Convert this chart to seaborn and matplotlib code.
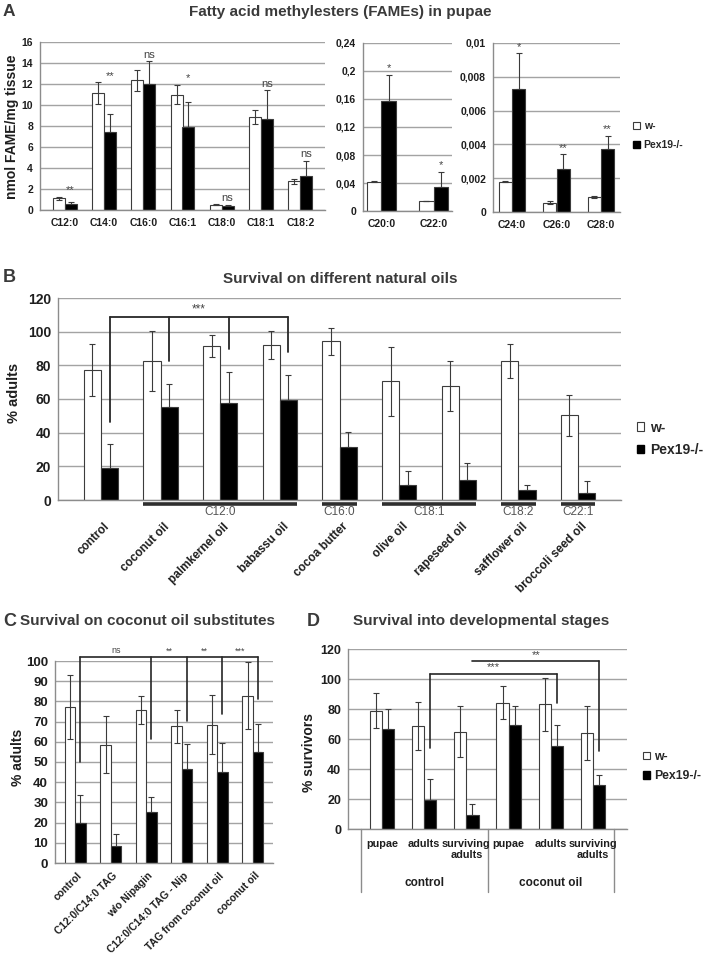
import numpy as np
import pandas as pd
import matplotlib
matplotlib.use('Agg')
import matplotlib.pyplot as plt
import matplotlib.transforms as mtransforms
from matplotlib.patches import Patch
import seaborn as sns

sns.set_theme(style='white')
plt.rcParams['font.family'] = ['Liberation Sans', 'DejaVu Sans']

# ---------------- data ----------------
genotypes = ['w-', 'Pex19-/-']

# Panel A – FAMEs (nmol FAME / mg tissue)
fame_lc = ['C12:0', 'C14:0', 'C16:0', 'C16:1', 'C18:0', 'C18:1', 'C18:2']
fame_lc_w = [1.1, 11.1, 12.35, 11.0, 0.5, 8.85, 2.75]
fame_lc_w_err = [0.15, 1.05, 1.0, 0.95, 0.05, 0.7, 0.25]
fame_lc_p = [0.6, 7.45, 12.0, 7.95, 0.35, 8.65, 3.25]
fame_lc_p_err = [0.2, 1.65, 2.2, 2.3, 0.1, 2.75, 1.45]
fame_lc_sig = ['**', '**', 'ns', '*', 'ns', 'ns', 'ns']

fame_mc = ['C20:0', 'C22:0']
fame_mc_w = [0.042, 0.0143]
fame_mc_w_err = [0.0008, 0.0006]
fame_mc_p = [0.157, 0.034]
fame_mc_p_err = [0.038, 0.022]
fame_mc_sig = ['*', '*']

fame_vlc = ['C24:0', 'C26:0', 'C28:0']
fame_vlc_w = [0.0018, 0.00055, 0.00088]
fame_vlc_w_err = [0.00004, 0.0001, 0.00005]
fame_vlc_p = [0.00728, 0.00256, 0.00371]
fame_vlc_p_err = [0.0021, 0.00085, 0.0008]
fame_vlc_sig = ['*', '**', '**']

# Panel B – survival on natural oils (% adults)
oils = ['control', 'coconut oil', 'palmkernel oil', 'babassu oil', 'cocoa butter',
        'olive oil', 'rapeseed oil', 'safflower oil', 'broccoli seed oil']
oils_w = [77.4, 82.7, 91.5, 92.0, 94.2, 70.4, 67.7, 82.7, 50.2]
oils_w_err = [15.5, 17.9, 6.5, 8.3, 8.0, 20.5, 14.7, 10.0, 12.0]
oils_p = [19.2, 55.2, 57.5, 59.5, 31.3, 8.7, 11.9, 6.2, 4.2]
oils_p_err = [14.0, 14.0, 18.5, 15.0, 8.8, 8.7, 10.0, 2.5, 7.0]
oil_groups = ['C12:0', 'C16:0', 'C18:1', 'C18:2', 'C22:1']
oil_group_first = ['coconut oil', 'cocoa butter', 'olive oil', 'safflower oil', 'broccoli seed oil']
oil_group_last = ['babassu oil', 'cocoa butter', 'rapeseed oil', 'safflower oil', 'broccoli seed oil']
oil_bracket_members = ['control', 'coconut oil', 'palmkernel oil', 'babassu oil']
oil_bracket_ends = [46.4, 82.7, 89.9, 87.7]
oil_bracket_level = 108.7
oil_bracket_sig = '***'

# Panel C – coconut oil substitutes (% adults)
subs = ['control', 'C12:0/C14:0 TAG', 'w/o Nipagin', 'C12:0/C14:0 TAG - Nip',
        'TAG from coconut oil', 'coconut oil']
subs_w = [77.2, 58.6, 75.9, 67.7, 68.5, 82.8]
subs_w_err = [15.8, 14.0, 7.0, 8.2, 14.7, 16.7]
subs_p = [19.8, 8.6, 25.1, 46.7, 45.0, 55.0]
subs_p_err = [14.0, 6.0, 7.4, 12.0, 14.5, 14.0]
subs_bracket_members = ['control', 'w/o Nipagin', 'C12:0/C14:0 TAG - Nip',
                        'TAG from coconut oil', 'coconut oil']
subs_bracket_ends = [49.8, 61.2, 70.5, 73.6, 81.0]
subs_bracket_level = 102.0
subs_sig = ['ns', '**', '**', '***']

# Panel D – survival into developmental stages (% survivors)
diets = ['control', 'coconut oil']
stages = ['pupae', 'adults', 'surviving\nadults']
stage_w = [78.9, 68.7, 64.9, 84.2, 83.1, 64.0]
stage_w_err = [11.5, 15.8, 17.0, 11.0, 17.6, 18.0]
stage_p = [66.7, 19.6, 9.1, 69.3, 55.1, 29.1]
stage_p_err = [13.0, 14.0, 7.3, 13.0, 14.0, 7.0]
stage_brackets = [  # (left stage idx, right stage idx, level, left end, right end, label)
    (1, 4, 103.6, 54.0, 84.0, '***'),
    (2, 5, 111.8, None, 52.0, '**'),
]

# ---------------- style ----------------
TXT = '#1e1e1e'
TITLE = '#3a3a3a'
GRID = '#a3a3a3'
SPINE = '#8c8c8c'
SIG = '#444444'
W, H = 705, 959
fig = plt.figure(figsize=(W / 100, H / 100), dpi=100)


def axpx(l, t, r, b):
    return fig.add_axes([l / W, 1 - b / H, (r - l) / W, (b - t) / H])


def draw_bars(ax, keys, w, p, werr, perr, width):
    n = len(keys)
    df = pd.DataFrame({'cat': list(keys) * 2,
                       'genotype': [genotypes[0]] * n + [genotypes[1]] * n,
                       'value': list(w) + list(p)})
    sns.barplot(data=df, x='cat', y='value', hue='genotype', order=list(keys),
                hue_order=genotypes, palette=dict(zip(genotypes, ['white', 'black'])),
                width=width, errorbar=None, legend=False, ax=ax, saturation=1,
                edgecolor='#3c3c3c', linewidth=0.8)
    out = []
    for k, (cont, err) in enumerate(zip(ax.containers, [werr, perr])):
        xs = np.array([r.get_x() + r.get_width() / 2 for r in cont])
        ys = np.array([r.get_height() for r in cont])
        err = np.asarray(err, dtype=float)
        yerr = err if k == 0 else np.vstack([np.zeros_like(err), err])
        ax.errorbar(xs, ys, yerr=yerr, fmt='none', ecolor='#3a3a3a', elinewidth=0.8,
                    capsize=2.3, capthick=0.8, zorder=4)
        out.append(xs)
    return out


def style_axes(ax, ticks, labels, fs):
    ax.set_ylim(ticks[0], ticks[-1])
    ax.set_yticks(ticks)
    ax.set_yticklabels(labels, fontweight='bold', fontsize=fs, color=TXT)
    ax.yaxis.grid(True, color=GRID, lw=1.0)
    ax.xaxis.grid(False)
    ax.set_axisbelow(True)
    for s in ['top', 'right']:
        ax.spines[s].set_visible(False)
    for s in ['left', 'bottom']:
        ax.spines[s].set_color(SPINE)
        ax.spines[s].set_linewidth(1.0)
    ax.tick_params(axis='y', length=3, width=0.9, color=SPINE, pad=2)
    ax.tick_params(axis='x', length=0)
    ax.set_xlabel('')
    ax.set_ylabel('')
    ax.set_facecolor('white')


def comma(v):
    return f'{v:g}'.replace('.', ',')


# ---------------- Panel A ----------------
fig.text(3 / W, 1 - 12 / H, 'A', fontsize=12.5, fontweight='bold', color=TITLE, va='center')
fig.text(340 / W, 1 - 12 / H, 'Fatty acid methylesters (FAMEs) in pupae', fontsize=11,
         fontweight='bold', color=TITLE, ha='center', va='center')

a_panels = [
    ((40, 42, 325, 210), fame_lc, fame_lc_w, fame_lc_p, fame_lc_w_err, fame_lc_p_err, fame_lc_sig,
     np.arange(0, 16.1, 2), 0.6),
    ((363, 43, 452, 211), fame_mc, fame_mc_w, fame_mc_p, fame_mc_w_err, fame_mc_p_err, fame_mc_sig,
     np.arange(0, 0.241, 0.04), 0.55),
    ((493, 43, 620, 212), fame_vlc, fame_vlc_w, fame_vlc_p, fame_vlc_w_err, fame_vlc_p_err, fame_vlc_sig,
     np.arange(0, 0.01001, 0.002), 0.6),
]
for box, cats, w, p, we, pe, sig, ticks, width in a_panels:
    ax = axpx(*box)
    xs = draw_bars(ax, cats, w, p, we, pe, width)
    style_axes(ax, ticks, [comma(t) for t in ticks], 7.5)
    ax.set_xticks(range(len(cats)))
    ax.set_xticklabels(cats, fontweight='bold', fontsize=7.5, color=TXT)
    ax.tick_params(axis='x', pad=6)
    for i, s in enumerate(sig):
        top = max(w[i] + we[i], p[i] + pe[i])
        ax.annotate(s, (xs[1][i], top), xytext=(0, 1), textcoords='offset points',
                    ha='center', va='bottom', fontsize=8, color=SIG)

fig.legend(handles=[Patch(fc='white', ec='#3c3c3c', lw=0.8), Patch(fc='black', ec='black')],
           labels=genotypes, loc='upper left', bbox_to_anchor=(629 / W, 1 - 117 / H),
           frameon=False, handlelength=0.7, handleheight=0.7, handletextpad=0.3,
           labelspacing=0.85, prop={'weight': 'bold', 'size': 7.5}, borderpad=0.4,
           borderaxespad=0)
fig.text(12 / W, 1 - 127 / H, 'nmol FAME/mg tissue', rotation=90, fontsize=10,
         fontweight='bold', color=TXT, ha='center', va='center')

# ---------------- Panel B ----------------
fig.text(3 / W, 1 - 277 / H, 'B', fontsize=13, fontweight='bold', color=TITLE, va='center')
fig.text(340 / W, 1 - 279 / H, 'Survival on different natural oils', fontsize=11,
         fontweight='bold', color=TITLE, ha='center', va='center')
axB = axpx(58, 298, 621, 500)
xsB = draw_bars(axB, oils, oils_w, oils_p, oils_w_err, oils_p_err, 0.58)
ticksB = np.arange(0, 121, 20)
style_axes(axB, ticksB, [f'{t:g}' for t in ticksB], 10)
axB.set_xticks(range(len(oils)))
axB.set_xticklabels(oils, rotation=45, ha='right', va='center', rotation_mode='anchor',
                    fontweight='bold', fontsize=8.5, color=TXT)
axB.tick_params(axis='x', pad=18)
offB = mtransforms.ScaledTranslation(7 / 100, 0, fig.dpi_scale_trans)
for lab in axB.get_xticklabels():
    lab.set_transform(lab.get_transform() + offB)
# substrate group lines
trB = mtransforms.blended_transform_factory(axB.transData, axB.transAxes)
half = 0.58 / 2
for g, a, b in zip(oil_groups, oil_group_first, oil_group_last):
    i0, i1 = oils.index(a), oils.index(b)
    axB.plot([i0 - half, i1 + half], [-0.02, -0.02], transform=trB, color='#2e2e2e',
             lw=2.6, clip_on=False, solid_capstyle='butt')
    axB.text((i0 + i1) / 2, -0.06, g, transform=trB, ha='center', va='center',
             fontsize=8.5, color='#555555')
# significance bracket
bx = [xsB[1][oils.index(m)] for m in oil_bracket_members]
axB.plot([bx[0], bx[-1]], [oil_bracket_level] * 2, color='#262626', lw=1.3, zorder=5)
for x_, e_ in zip(bx, oil_bracket_ends):
    axB.plot([x_, x_], [oil_bracket_level, e_], color='#262626', lw=1.3, zorder=5)
axB.text((bx[0] + bx[-1]) / 2, oil_bracket_level + 1, oil_bracket_sig, ha='center',
         va='bottom', fontsize=8.5, color=SIG)
fig.legend(handles=[Patch(fc='white', ec='#3c3c3c', lw=0.8), Patch(fc='black', ec='black')],
           labels=genotypes, loc='upper left', bbox_to_anchor=(631 / W, 1 - 415 / H),
           frameon=False, handlelength=0.55, handleheight=0.55, handletextpad=0.45,
           labelspacing=0.6, prop={'weight': 'bold', 'size': 10}, borderpad=0.4,
           borderaxespad=0)
fig.text(14 / W, 1 - 393 / H, '% adults', rotation=90, fontsize=10.5,
         fontweight='bold', color=TXT, ha='center', va='center')

# ---------------- Panel C ----------------
fig.text(3 / W, 1 - 621 / H, 'C', fontsize=13, fontweight='bold', color=TITLE, va='center')
fig.text(20 / W, 1 - 621 / H, 'Survival on coconut oil substitutes', fontsize=11,
         fontweight='bold', color=TITLE, ha='left', va='center')
axC = axpx(55, 661, 273, 863)
xsC = draw_bars(axC, subs, subs_w, subs_p, subs_w_err, subs_p_err, 0.58)
ticksC = np.arange(0, 101, 10)
style_axes(axC, ticksC, [f'{t:g}' for t in ticksC], 9.5)
axC.set_xticks(range(len(subs)))
axC.set_xticklabels(subs, rotation=45, ha='right', va='center', rotation_mode='anchor',
                    fontweight='bold', fontsize=7.5, color=TXT)
axC.tick_params(axis='x', pad=8)
offC = mtransforms.ScaledTranslation(5 / 100, 0, fig.dpi_scale_trans)
for lab in axC.get_xticklabels():
    lab.set_transform(lab.get_transform() + offC)
cx = [xsC[1][subs.index(m)] for m in subs_bracket_members]
axC.plot([cx[0], cx[-1]], [subs_bracket_level] * 2, color='#262626', lw=1.2, zorder=5,
         clip_on=False)
for x_, e_ in zip(cx, subs_bracket_ends):
    axC.plot([x_, x_], [subs_bracket_level, e_], color='#262626', lw=1.2, zorder=5,
             clip_on=False)
for k, s in enumerate(subs_sig):
    axC.text((cx[k] + cx[k + 1]) / 2, subs_bracket_level + 0.8, s, ha='center',
             va='bottom', fontsize=6.5, color=SIG, clip_on=False)
fig.text(18 / W, 1 - 757 / H, '% adults', rotation=90, fontsize=10,
         fontweight='bold', color=TXT, ha='center', va='center')

# ---------------- Panel D ----------------
fig.text(307 / W, 1 - 621 / H, 'D', fontsize=13, fontweight='bold', color=TITLE, va='center')
fig.text(353 / W, 1 - 621 / H, 'Survival into developmental stages', fontsize=11,
         fontweight='bold', color=TITLE, ha='left', va='center')
axD = axpx(348, 649, 627, 829)
keysD = [f'{d}|{s}' for d in diets for s in stages]
xsD = draw_bars(axD, keysD, stage_w, stage_p, stage_w_err, stage_p_err, 0.58)
ticksD = np.arange(0, 121, 20)
style_axes(axD, ticksD, [f'{t:g}' for t in ticksD], 9)
axD.set_xticks(range(len(keysD)))
axD.set_xticklabels([])
trD = mtransforms.blended_transform_factory(axD.transData, axD.transAxes)
nS = len(stages)
for xb in [-0.5, nS - 0.5, 2 * nS - 0.5]:
    axD.plot([xb, xb], [0, -0.35], transform=trD, color=SPINE, lw=1.0, clip_on=False)
for i, k in enumerate(keysD):
    axD.text(i, -0.055, k.split('|')[1], transform=trD, ha='center', va='top',
             fontsize=7.8, fontweight='bold', color=TXT, linespacing=1.2)
for g, d in enumerate(diets):
    axD.text(g * nS + (nS - 1) / 2, -0.30, d, transform=trD, ha='center', va='center',
             fontsize=8.5, fontweight='bold', color=TXT)
for li, ri, lvl, le, re, lab in stage_brackets:
    xl, xr = xsD[1][li], xsD[1][ri]
    axD.plot([xl, xr], [lvl, lvl], color='#262626', lw=1.2, zorder=5)
    if le is not None:
        axD.plot([xl, xl], [lvl, le], color='#262626', lw=1.2, zorder=5)
    axD.plot([xr, xr], [lvl, re], color='#262626', lw=1.2, zorder=5)
    axD.text((xl + xr) / 2, lvl + 0.8, lab, ha='center', va='bottom', fontsize=8, color=SIG)
fig.legend(handles=[Patch(fc='white', ec='#3c3c3c', lw=0.8), Patch(fc='black', ec='black')],
           labels=genotypes, loc='upper left', bbox_to_anchor=(638 / W, 1 - 746 / H),
           frameon=False, handlelength=0.6, handleheight=0.6, handletextpad=0.3,
           labelspacing=0.62, prop={'weight': 'bold', 'size': 8.8}, borderpad=0.4,
           borderaxespad=0)
fig.text(309 / W, 1 - 753 / H, '% survivors', rotation=90, fontsize=10,
         fontweight='bold', color=TXT, ha='center', va='center')

fig.savefig('out.png', dpi=100, facecolor='white')
